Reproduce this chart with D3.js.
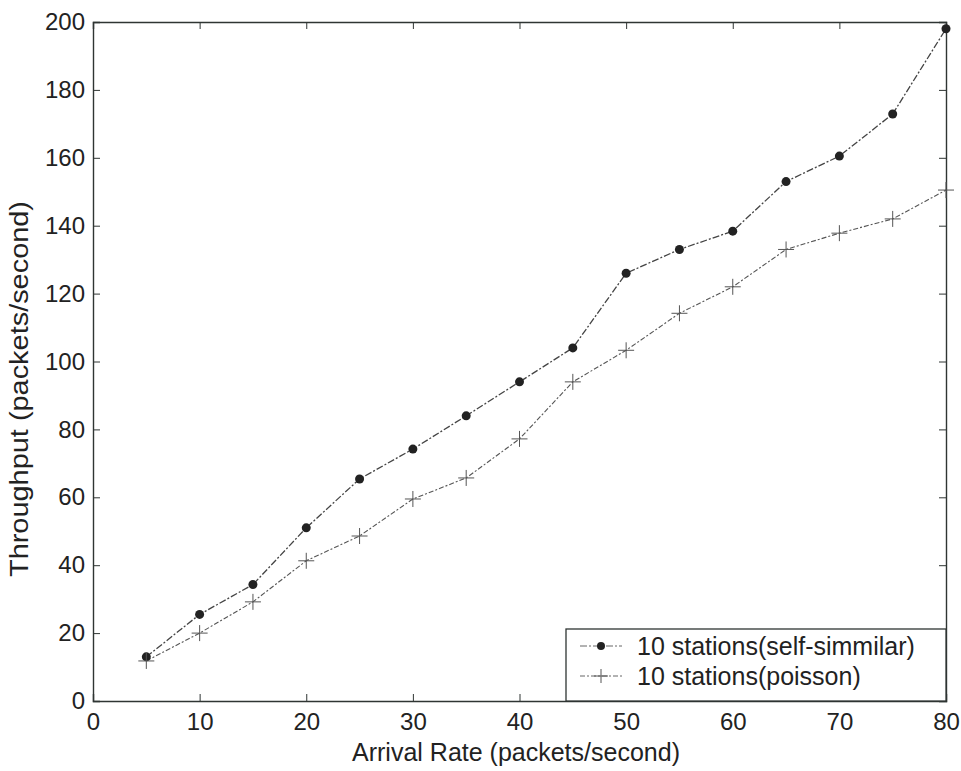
<!DOCTYPE html>
<html>
<head>
<meta charset="utf-8">
<title>Throughput vs Arrival Rate</title>
<script src="https://d3js.org/d3.v7.min.js"></script>
<style>
body { margin: 0; padding: 0; background: #fff; font-family: "Liberation Sans", Arial, sans-serif; }
svg text { font-family: "Liberation Sans", Arial, sans-serif; fill: #222; }
</style>
</head>
<body>
<div id="chart"></div>
<script>
// data
var arrival = [5, 10, 15, 20, 25, 30, 35, 40, 45, 50, 55, 60, 65, 70, 75, 80];
var selfSimilar = [13, 25.5, 34.3, 51, 65.4, 74.2, 84, 94, 104, 126, 133, 138.4, 153, 160.5, 172.9, 198];
var poisson = [11.8, 20, 29.2, 41.3, 48.6, 59.5, 65.7, 77.2, 94, 103.3, 114.2, 122, 133, 137.8, 142, 150.5];
var xTicks = [0, 10, 20, 30, 40, 50, 60, 70, 80];
var yTicks = [0, 20, 40, 60, 80, 100, 120, 140, 160, 180, 200];
var seriesNames = ["10 stations(self-simmilar)", "10 stations(poisson)"];

var W = 961, H = 771;
var margin = {top: 22, right: 15, bottom: 70, left: 93};
var width = W - margin.left - margin.right,
    height = H - margin.top - margin.bottom;

var svg = d3.select("#chart").append("svg")
    .attr("width", W).attr("height", H);
var g = svg.append("g")
    .attr("transform", "translate(" + margin.left + "," + margin.top + ")");

var x = d3.scaleLinear().domain([0, 80]).range([0, width]);
var y = d3.scaleLinear().domain([0, 200]).range([height, 0]);

var axisColor = "#2f3533";

// axes, ticks pointing inward (plus mirrored on top/right)
var xa = g.append("g").attr("transform", "translate(0," + height + ")")
    .call(d3.axisBottom(x).tickValues(xTicks).tickSize(-7).tickPadding(12));
var ya = g.append("g")
    .call(d3.axisLeft(y).tickValues(yTicks).tickSize(-7).tickPadding(8));
var xt = g.append("g")
    .call(d3.axisTop(x).tickValues(xTicks).tickSize(-7).tickFormat(""));
var yr = g.append("g").attr("transform", "translate(" + width + ",0)")
    .call(d3.axisRight(y).tickValues(yTicks).tickSize(-7).tickFormat(""));

[xa, ya, xt, yr].forEach(function(a) {
  a.select(".domain").attr("stroke", axisColor).attr("stroke-width", 1.4);
  a.selectAll(".tick line").attr("stroke", axisColor).attr("stroke-width", 1);
  a.selectAll(".tick text").attr("font-size", 24).attr("fill", "#222");
});

// axis titles
svg.append("text")
    .attr("x", 516).attr("y", 761)
    .attr("text-anchor", "middle").attr("font-size", 25)
    .text("Arrival Rate (packets/second)");
svg.append("text")
    .attr("transform", "translate(28,389) rotate(-90)")
    .attr("text-anchor", "middle").attr("font-size", 25)
    .attr("textLength", 376).attr("lengthAdjust", "spacingAndGlyphs")
    .text("Throughput (packets/second)");

var line = d3.line()
    .x(function(d) { return x(d[0]); })
    .y(function(d) { return y(d[1]); });

var ssData = arrival.map(function(a, i) { return [a, selfSimilar[i]]; });
var poData = arrival.map(function(a, i) { return [a, poisson[i]]; });

g.append("path").datum(ssData)
    .attr("d", line).attr("fill", "none")
    .attr("stroke", "#444").attr("stroke-width", 1.3)
    .attr("stroke-dasharray", "7,2,2,2");
g.append("path").datum(poData)
    .attr("d", line).attr("fill", "none")
    .attr("stroke", "#555").attr("stroke-width", 1.1)
    .attr("stroke-dasharray", "5,2,2,2");

g.selectAll(".dot").data(ssData).enter().append("circle")
    .attr("class", "dot")
    .attr("cx", function(d) { return x(d[0]); })
    .attr("cy", function(d) { return y(d[1]); })
    .attr("r", 4.5).attr("fill", "#222");

g.selectAll(".plus").data(poData).enter().append("path")
    .attr("class", "plus")
    .attr("transform", function(d) { return "translate(" + x(d[0]) + "," + y(d[1]) + ")"; })
    .attr("d", "M-8,0H8M0,-8V8")
    .attr("stroke", "#555").attr("stroke-width", 1);

// legend
var lg = g.append("g").attr("transform", "translate(" + (width - 380) + "," + (height - 72) + ")");
lg.append("rect").attr("width", 380).attr("height", 72)
    .attr("fill", "#fff").attr("stroke", axisColor).attr("stroke-width", 1.3);
var rows = [
  {name: seriesNames[0], dash: "7,2,2,2", mark: "dot"},
  {name: seriesNames[1], dash: "5,2,2,2", mark: "plus"}
];
rows.forEach(function(r, i) {
  var yy = 17 + i * 30;
  lg.append("line").attr("x1", 14).attr("x2", 56).attr("y1", yy).attr("y2", yy)
    .attr("stroke", "#666").attr("stroke-width", 1).attr("stroke-dasharray", r.dash);
  if (r.mark === "dot") {
    lg.append("circle").attr("cx", 35).attr("cy", yy).attr("r", 4).attr("fill", "#222");
  } else {
    lg.append("path").attr("transform", "translate(35," + yy + ")")
      .attr("d", "M-7,0H7M0,-7V7").attr("stroke", "#555").attr("stroke-width", 1);
  }
  lg.append("text").attr("x", 71).attr("y", yy + 9)
    .attr("font-size", 25).text(r.name);
});
</script>
</body>
</html>
